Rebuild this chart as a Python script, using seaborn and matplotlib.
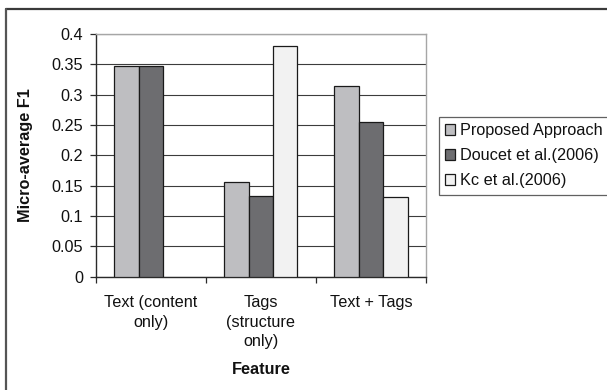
import numpy as np
import pandas as pd
import matplotlib
matplotlib.use("Agg")
import matplotlib.pyplot as plt
from matplotlib.lines import Line2D
import seaborn as sns

# Feature sets compared and the micro-average F1 of each method
features = ["Text (content\nonly)", "Tags\n(structure\nonly)", "Text + Tags"]
methods = ["Proposed Approach", "Doucet et al.(2006)", "Kc et al.(2006)"]
proposed = [0.347, 0.156, 0.315]
doucet = [0.348, 0.133, 0.255]
kc = [np.nan, 0.380, 0.131]   # no text-only result for Kc et al.
y_ticks = [0, 0.05, 0.1, 0.15, 0.2, 0.25, 0.3, 0.35, 0.4]
y_tick_labels = ["0", "0.05", "0.1", "0.15", "0.2", "0.25", "0.3", "0.35", "0.4"]

df = pd.DataFrame({
    "Feature": features * 3,
    "Method": [m for m in methods for _ in features],
    "F1": proposed + doucet + kc,
})

sns.set_theme(style="white")
plt.rcParams["font.family"] = ["Liberation Sans", "DejaVu Sans"]
FS = 11.7

fig = plt.figure(figsize=(6.07, 3.90), dpi=100)
ax = fig.add_axes([95.7 / 607, 1 - 276.7 / 390, (426 - 95.7) / 607, (276.7 - 34) / 390])

palette = ["#bdbec2", "#6c6d71", "#f2f2f2"]
sns.barplot(data=df, x="Feature", y="F1", hue="Method", hue_order=methods,
            order=features, palette=palette, width=0.665, gap=0,
            edgecolor="#1a1a1a", linewidth=0.9, errorbar=None, ax=ax, zorder=3)

ax.set_ylim(0, 0.4)
ax.set_yticks(y_ticks)
ax.set_yticklabels(y_tick_labels)
ax.set_xlim(-0.5, 2.5)

# horizontal gridlines
ax.yaxis.grid(True, color="#3c3c3c", linewidth=0.8)
ax.set_axisbelow(True)

for side in ["top", "right"]:
    ax.spines[side].set_visible(True)
    ax.spines[side].set_color("#a6a6a6")
    ax.spines[side].set_linewidth(1.0)
for side in ["left", "bottom"]:
    ax.spines[side].set_color("#2a2a2a")
    ax.spines[side].set_linewidth(1.0)

ax.tick_params(axis="y", which="major", left=True, length=4, width=0.9,
               color="#2a2a2a", labelsize=FS, pad=5, labelcolor="#111111")
# category ticks sit between the groups, labels centered on groups
ax.set_xticks([0, 1, 2])
ax.set_xticklabels(features, fontsize=FS, linespacing=1.4, color="#111111")
ax.tick_params(axis="x", which="major", bottom=False, pad=7)
ax.set_xticks([-0.5, 0.5, 1.5, 2.5], minor=True)
ax.tick_params(axis="x", which="minor", bottom=True, length=4, width=0.9,
               color="#2a2a2a")

ax.set_xlabel("Feature", fontsize=FS, fontweight="bold", color="#111111")
ax.xaxis.set_label_coords(0.5, -0.35)
ax.set_ylabel("Micro-average F1", fontsize=FS, fontweight="bold", color="#111111")
ax.yaxis.set_label_coords(-0.19, 0.5)

handles, labels = ax.get_legend_handles_labels()
leg = ax.legend(handles, labels, loc="upper left",
                bbox_to_anchor=(439 / 607, 1 - 117 / 390),
                bbox_transform=fig.transFigure, borderaxespad=0,
                frameon=True, fancybox=False, fontsize=FS,
                handlelength=0.6, handleheight=0.6, handletextpad=0.3,
                labelspacing=0.62, borderpad=0.38)
leg.get_frame().set_edgecolor("#3a3a3a")
leg.get_frame().set_linewidth(0.9)
for t in leg.get_texts():
    t.set_color("#111111")

# chart frame along the top and left edges
fig.add_artist(Line2D([6 / 607, 1.0], [1 - 9 / 390, 1 - 9 / 390],
                      transform=fig.transFigure, color="#3a3a3a", linewidth=1.6))
fig.add_artist(Line2D([6 / 607, 6 / 607], [0.0, 1 - 9 / 390],
                      transform=fig.transFigure, color="#555555", linewidth=1.6))

fig.savefig("out.png", dpi=100)
